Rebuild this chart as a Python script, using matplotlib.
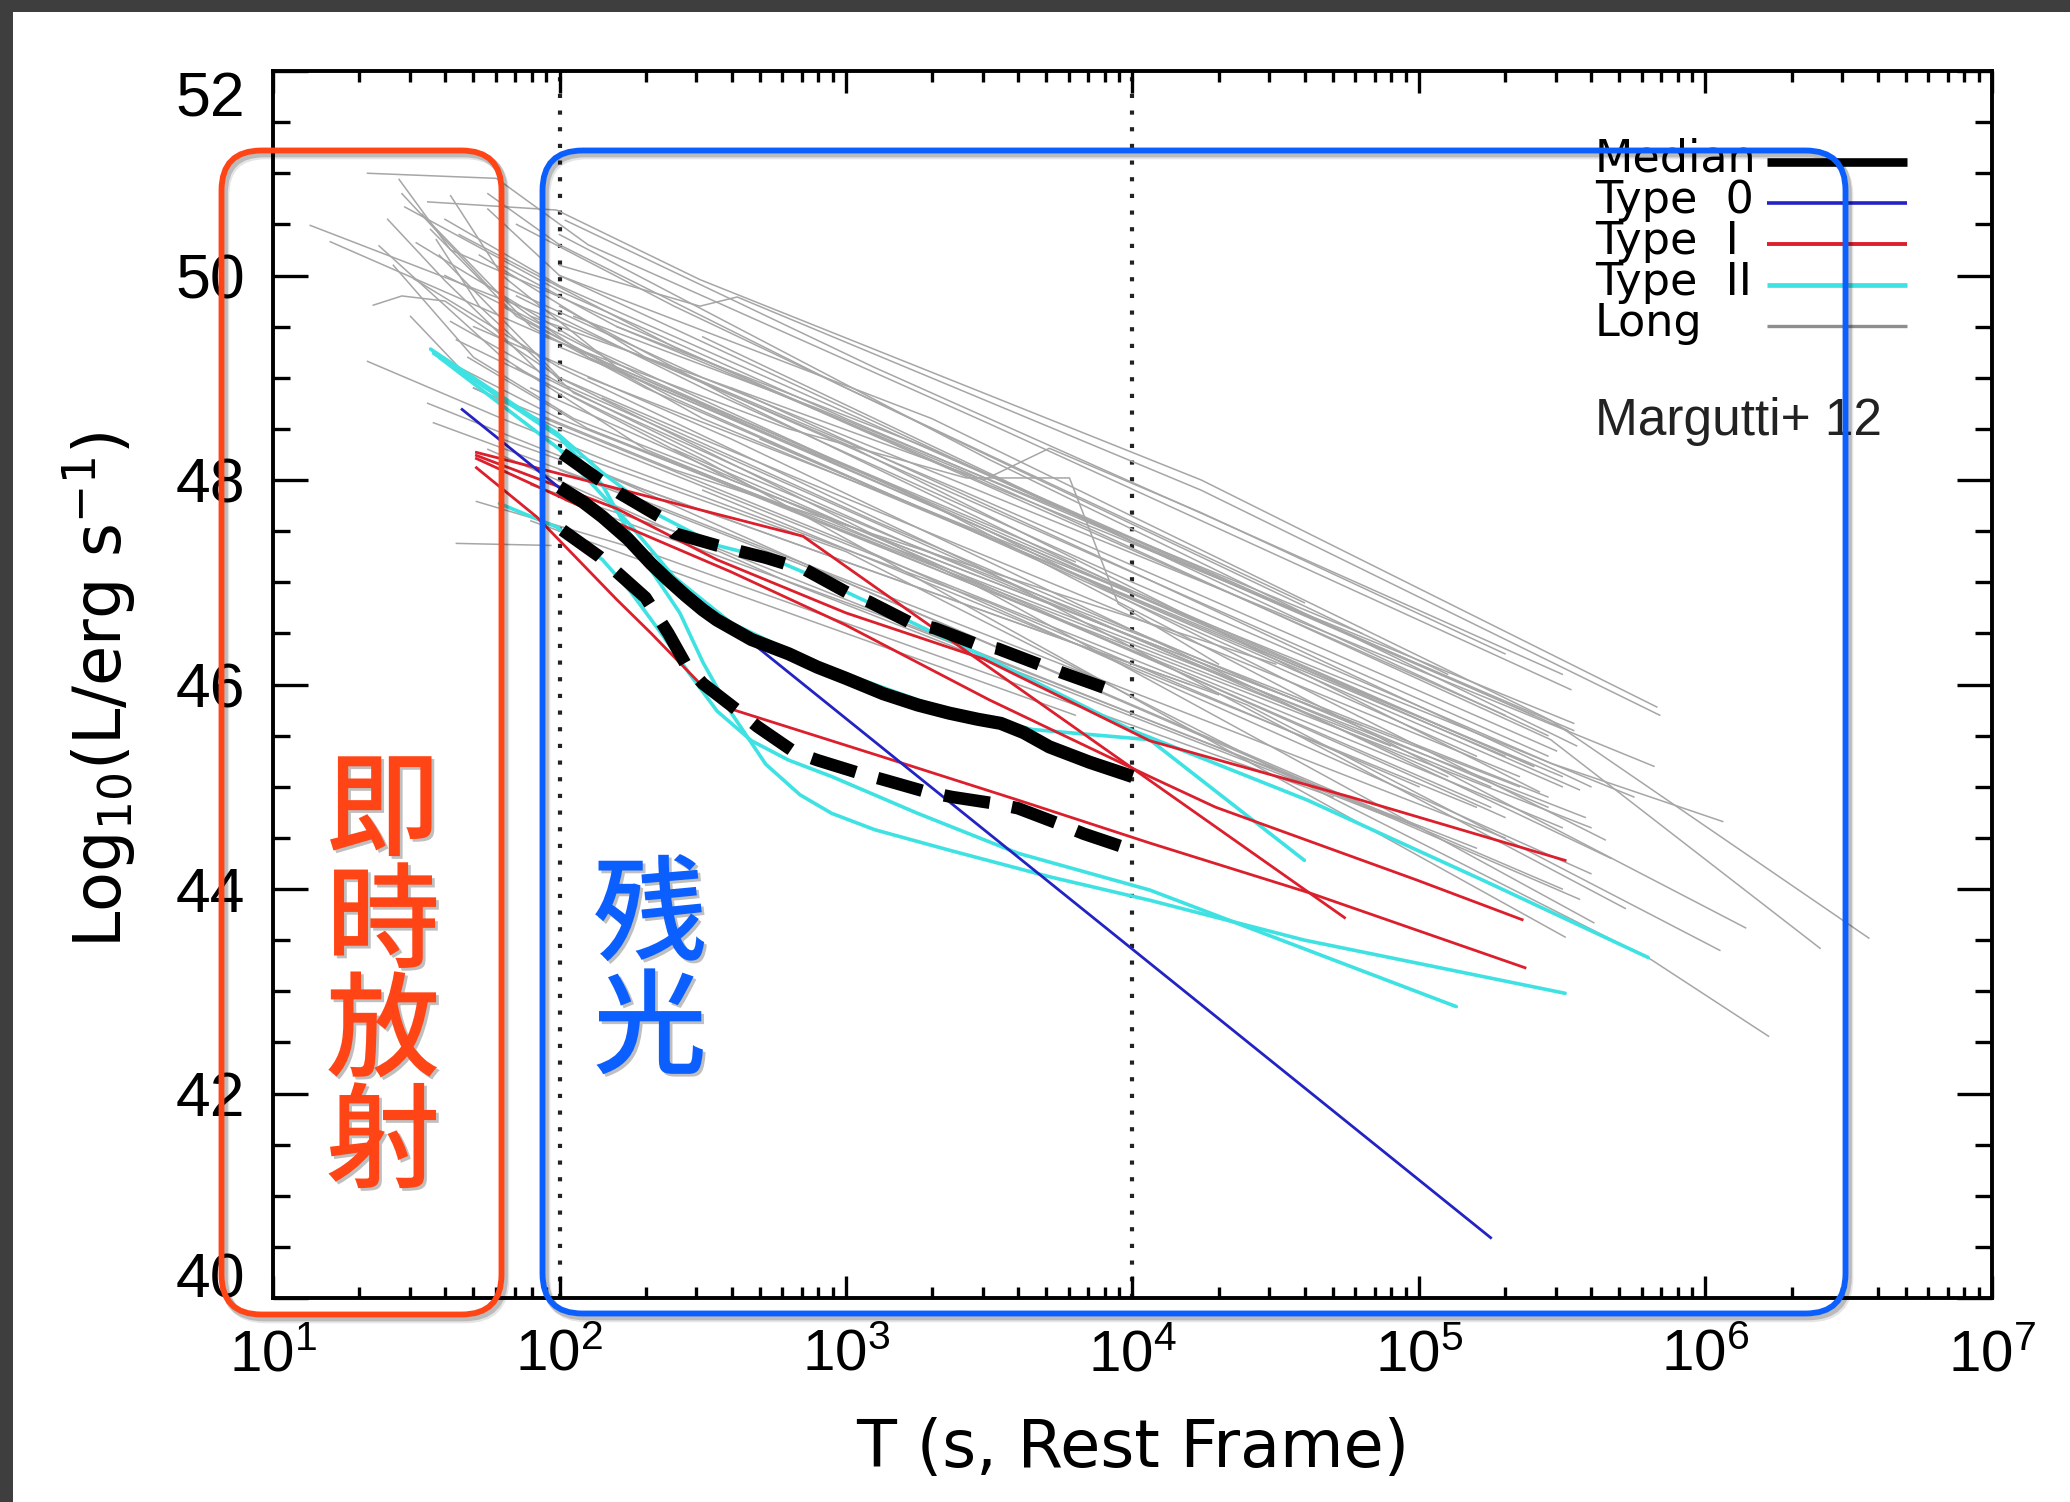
import numpy as np
import matplotlib
matplotlib.use("Agg")
import matplotlib.pyplot as plt
import matplotlib.ticker as mticker
import matplotlib.patheffects as pe
from matplotlib.patches import FancyBboxPatch, Rectangle

plt.rcParams["mathtext.fontset"] = "custom"
plt.rcParams["mathtext.rm"] = "Liberation Sans"
plt.rcParams["mathtext.it"] = "Liberation Sans:italic"
plt.rcParams["mathtext.default"] = "regular"

# ---------------- data: log10(T [s]) and log10(L [erg/s]) ----------------
median_logt = [2.00, 2.08, 2.15, 2.24, 2.32, 2.38, 2.44, 2.50, 2.55, 2.67, 2.80, 2.90, 3.00,
               3.13, 3.25, 3.36, 3.46, 3.54, 3.62, 3.71, 3.85, 4.00]
median_lum = [47.93, 47.79, 47.64, 47.42, 47.18, 47.02, 46.87, 46.73, 46.63, 46.44, 46.30,
              46.17, 46.06, 45.91, 45.80, 45.72, 45.66, 45.62, 45.53, 45.39, 45.24, 45.10]

upper_logt = [2.01, 2.14, 2.21, 2.35, 2.40, 2.55, 2.72, 2.86, 3.01, 3.08, 3.22, 3.31, 3.45,
              3.53, 3.68, 3.76, 3.91]
upper_lum = [48.26, 48.00, 47.87, 47.64, 47.48, 47.36, 47.24, 47.12, 46.89, 46.81, 46.61,
             46.55, 46.40, 46.35, 46.19, 46.11, 45.96]

lower_logt = [2.01, 2.14, 2.22, 2.30, 2.38, 2.44, 2.50, 2.62, 2.69, 2.82, 2.90, 3.05, 3.13,
              3.28, 3.37, 3.51, 3.60, 3.75, 3.83, 4.00]
lower_lum = [47.51, 47.25, 47.05, 46.85, 46.50, 46.20, 46.01, 45.75, 45.59, 45.34, 45.26,
             45.13, 45.07, 44.95, 44.90, 44.84, 44.79, 44.63, 44.54, 44.38]

type0_logt = [1.66, 5.25]
type0_lum = [48.69, 40.59]

type1_logt = [
    [1.71, 2.85, 4.74],
    [1.71, 2.20, 2.55, 3.00, 3.48, 4.06, 4.76, 5.51],
    [1.71, 2.20, 2.60, 3.00, 3.50, 4.06, 4.29, 4.99, 5.36],
    [1.71, 1.92, 2.20, 2.32, 2.49, 2.61, 3.13, 3.60, 4.06, 4.62, 5.37],
]
type1_lum = [
    [48.27, 47.45, 43.72],
    [48.24, 47.72, 47.22, 46.70, 46.25, 45.45, 44.90, 44.28],
    [48.21, 47.58, 47.10, 46.58, 45.85, 45.10, 44.80, 44.09, 43.70],
    [48.12, 47.64, 46.83, 46.50, 46.01, 45.75, 45.29, 44.87, 44.45, 43.96, 43.23],
]

type2_logt = [
    [1.55, 1.99, 2.15, 2.35, 2.55, 2.75, 2.90, 3.05, 3.22, 3.50, 4.00, 4.61, 5.22, 5.80],
    [1.56, 2.00, 2.15, 2.30, 2.42, 2.50, 2.60, 2.72, 2.84, 2.95, 3.10, 3.36, 3.71, 4.06,
     4.60, 5.51],
    [1.79, 1.99, 2.15, 2.25, 2.35, 2.45, 2.55, 2.67, 2.80, 2.95, 3.25, 3.60, 4.06, 5.13],
    [1.58, 2.00, 2.25, 2.40, 2.60, 2.90, 3.30, 3.65, 4.06, 4.60],
]
type2_lum = [
    [49.28, 48.46, 48.07, 47.65, 47.36, 47.22, 47.04, 46.84, 46.62, 46.25, 45.55, 44.87,
     44.09, 43.33],
    [49.24, 48.42, 47.95, 47.20, 46.70, 46.22, 45.72, 45.22, 44.92, 44.74, 44.58, 44.38,
     44.12, 43.89, 43.50, 42.98],
    [47.77, 47.54, 47.22, 46.90, 46.52, 46.12, 45.74, 45.45, 45.26, 45.10, 44.74, 44.35,
     43.99, 42.85],
    [49.20, 48.30, 47.55, 47.05, 46.60, 46.20, 45.80, 45.56, 45.46, 44.28],
]

long_logt = [
    [1.33, 1.78, 2.10, 3.50, 5.53],
    [1.44, 1.62, 2.20, 3.50, 5.54],
    [1.46, 2.00, 3.00, 5.54],
    [1.54, 1.99, 2.49, 4.24, 5.83],
    [1.13, 2.00, 3.00, 5.42],
    [1.20, 2.00, 3.50, 5.56],
    [1.37, 1.80, 2.30, 5.50],
    [1.50, 2.10, 3.50, 5.65],
    [1.49, 2.00, 3.50, 5.72],
    [1.35, 1.45, 1.60, 2.00, 3.50, 5.61],
    [1.64, 2.50, 5.51],
    [1.33, 1.80, 2.20, 3.50, 5.00],
    [1.54, 2.30, 4.30],
    [1.56, 2.20, 5.30],
    [1.71, 2.30, 4.70],
    [1.64, 1.97],
    [2.00, 2.49, 2.62, 4.24, 5.84],
    [1.75, 2.00, 3.30, 5.46, 6.57],
    [1.80, 2.20, 3.40, 5.46, 6.40],
    [1.85, 2.50, 4.00, 5.46, 6.06],
    [2.00, 3.00, 5.81, 6.22],
    [1.90, 2.60, 3.48, 3.71, 4.24, 5.30],
    [1.95, 2.80, 3.42, 3.78, 3.95, 4.30],
    [1.80, 2.50, 5.82],
    [1.70, 2.60, 5.67],
    [2.00, 3.20, 6.14],
    [1.65, 2.40, 5.30],
    [1.72, 2.30, 5.45],
    [1.80, 2.50, 5.50],
    [1.85, 2.60, 5.35],
    [1.90, 2.70, 5.25],
    [1.95, 3.00, 5.60],
    [2.00, 3.00, 5.50],
    [2.02, 3.10, 5.20],
    [1.75, 2.80, 4.90],
    [2.05, 2.90, 4.80],
    [2.10, 3.20, 5.75],
    [2.00, 3.50, 5.55],
    [2.02, 3.10, 5.50],
    [1.60, 2.30, 5.40],
    [1.62, 2.00, 5.10],
    [1.68, 2.10, 5.58],
    [1.70, 2.40, 4.50],
    [1.80, 2.20, 4.20],
    [1.90, 2.40, 5.00],
    [2.10, 3.60, 5.60],
    [2.20, 3.30, 5.52],
    [2.30, 3.40, 5.48],
    [2.15, 3.10, 5.45],
    [2.40, 3.30, 5.30],
    [2.50, 4.00, 5.40],
    [2.50, 3.80, 5.20],
    [2.60, 4.00, 5.60],
    [2.70, 4.20, 5.30],
    [1.75, 2.00, 3.00, 4.60],
    [1.85, 2.40, 5.10],
    [1.60, 2.00, 4.50],
    [2.00, 3.00, 5.45],
    [2.00, 2.60, 4.00],
    [1.90, 2.30, 3.80],
    [1.70, 2.00, 4.40, 6.05],
    [2.20, 3.00, 5.56],
    [1.45, 1.75, 2.10, 3.50, 5.40],
    [1.52, 1.90, 2.30, 5.50],
    [1.55, 1.85, 2.40, 5.20],
    [1.42, 1.70, 2.05, 4.80],
    [1.58, 2.00, 2.50, 5.35],
    [1.62, 1.80, 2.20, 3.80],
    [1.48, 1.65, 2.00, 4.90],
    [1.40, 1.60, 1.95, 2.60, 5.25],
    [1.57, 1.72, 2.05, 3.20, 5.45],
]
long_lum = [
    [51.00, 50.95, 50.30, 48.55, 45.95],
    [50.94, 50.25, 49.55, 47.95, 45.62],
    [50.67, 49.85, 48.60, 45.55],
    [50.72, 50.64, 49.96, 48.00, 45.78],
    [50.49, 49.55, 48.35, 44.95],
    [50.33, 49.35, 47.50, 44.97],
    [50.29, 49.20, 48.30, 44.60],
    [50.32, 49.30, 47.50, 44.48],
    [49.97, 49.10, 47.10, 43.81],
    [49.71, 49.80, 49.75, 49.00, 46.90, 43.67],
    [49.37, 48.20, 43.53],
    [49.16, 48.60, 48.15, 46.80, 45.00],
    [48.75, 47.90, 45.90],
    [48.56, 47.90, 44.50],
    [47.79, 47.30, 44.90],
    [47.38, 47.36],
    [50.10, 49.70, 49.79, 47.90, 45.70],
    [50.65, 50.00, 48.60, 45.65, 43.52],
    [50.10, 49.50, 48.10, 45.46, 43.42],
    [49.80, 48.90, 47.00, 45.23, 44.66],
    [48.30, 47.30, 43.31, 42.56],
    [49.60, 48.90, 48.00, 48.31, 47.68, 46.30],
    [49.40, 48.50, 48.02, 48.02, 46.79, 46.20],
    [49.90, 49.00, 45.20],
    [49.50, 48.40, 44.30],
    [49.30, 47.90, 43.62],
    [50.40, 49.30, 45.70],
    [50.20, 49.20, 45.30],
    [49.70, 48.60, 45.10],
    [49.10, 48.00, 45.00],
    [48.90, 47.90, 44.80],
    [48.60, 47.40, 44.15],
    [48.10, 47.00, 44.00],
    [47.80, 46.70, 44.40],
    [48.30, 47.00, 44.70],
    [49.60, 48.70, 46.50],
    [49.00, 47.80, 44.90],
    [50.40, 48.20, 45.40],
    [50.54, 49.10, 46.10],
    [50.00, 49.00, 45.20],
    [49.55, 48.95, 45.10],
    [49.20, 48.50, 44.70],
    [48.90, 48.10, 46.20],
    [48.40, 48.00, 46.00],
    [47.95, 47.50, 44.60],
    [48.50, 46.80, 44.60],
    [49.50, 48.30, 45.55],
    [49.20, 47.90, 45.35],
    [48.80, 47.60, 44.80],
    [48.30, 47.20, 44.70],
    [49.40, 47.40, 45.70],
    [47.90, 46.40, 44.80],
    [48.90, 47.10, 45.00],
    [48.40, 46.60, 45.30],
    [50.80, 50.30, 48.90, 46.80],
    [50.50, 49.70, 46.10],
    [50.55, 49.90, 46.80],
    [50.00, 48.70, 45.50],
    [49.70, 48.80, 46.90],
    [47.60, 47.20, 45.70],
    [48.90, 48.50, 45.80, 43.40],
    [48.00, 47.00, 43.90],
    [50.80, 49.90, 49.20, 47.50, 45.20],
    [50.60, 49.50, 48.90, 45.00],
    [50.45, 49.60, 48.80, 45.30],
    [50.10, 49.20, 48.60, 45.60],
    [50.20, 49.00, 48.40, 45.10],
    [50.78, 50.00, 49.10, 47.20],
    [49.60, 49.10, 48.60, 45.40],
    [50.55, 49.95, 49.00, 48.10, 45.00],
    [50.35, 49.70, 48.85, 47.40, 44.90],
]

legend_labels = ["Median", "Type  0", "Type  I", "Type  II", "Long"]
legend_colors = ["black", "#2323c3", "#dc1f2c", "#3fe2e2", "#8e8e8e"]
legend_widths = [6.2, 2.6, 2.8, 3.4, 2.4]

x_range = (1e1, 1e7)
y_range = (40, 52)
x_ticks = [1e1, 1e2, 1e3, 1e4, 1e5, 1e6, 1e7]
y_ticks = [40, 42, 44, 46, 48, 50, 52]
phase_lines = [1e2, 1e4]

# ---------------- figure ----------------
W, H = 2070, 1502
fig = plt.figure(figsize=(W / 100, H / 100), dpi=100, facecolor="white")
ax = fig.add_axes([273 / W, 1 - 1298 / H, 1719 / W, 1227 / H])


def T(v):
    return 10 ** np.asarray(v, dtype=float)


for t, l in zip(long_logt, long_lum):
    ax.plot(T(t), l, color="#a6a6a6", lw=1.1, zorder=2)
for t, l in zip(type2_logt, type2_lum):
    ax.plot(T(t), l, color="#3fe2e2", lw=2.6, zorder=3, solid_capstyle="round",
            solid_joinstyle="round")
for t, l in zip(type1_logt, type1_lum):
    ax.plot(T(t), l, color="#dc1f2c", lw=2.0, zorder=4)
ax.plot(T(type0_logt), type0_lum, color="#2323c3", lw=2.0, zorder=5)

ax.plot(T(median_logt), median_lum, color="black", lw=9.5, zorder=6,
        solid_capstyle="butt", solid_joinstyle="round")
for t, l in ((upper_logt, upper_lum), (lower_logt, lower_lum)):
    ax.plot(T(t), l, color="black", lw=9.0, zorder=6, dashes=(3.7, 1.8),
            dash_capstyle="butt", dash_joinstyle="round")

for xv in phase_lines:
    ax.axvline(xv, color="#222222", lw=3.0, dashes=(1, 3), zorder=1.5)

ax.set_xscale("log")
ax.set_xlim(*x_range)
ax.set_ylim(*y_range)
ax.set_xticks(x_ticks)
ax.xaxis.set_major_formatter(mticker.FuncFormatter(
    lambda v, p: r"$10^{%d}$" % int(round(np.log10(v)))))
ax.xaxis.set_minor_locator(mticker.LogLocator(base=10, subs=np.arange(2, 10), numticks=20))
ax.xaxis.set_minor_formatter(mticker.NullFormatter())
ax.set_yticks(y_ticks)
ax.set_yticklabels([str(v) for v in y_ticks])
ax.yaxis.set_minor_locator(mticker.MultipleLocator(0.5))

for s in ax.spines.values():
    s.set_linewidth(2.8)
ax.tick_params(which="both", direction="in", top=True, right=True, width=2.4, color="black")
ax.tick_params(axis="x", which="major", length=16, pad=22, labelsize=42)
ax.tick_params(axis="x", which="minor", length=8)
ax.tick_params(axis="y", which="major", length=25, pad=20, labelsize=45)
ax.tick_params(axis="y", which="minor", length=12.5)
for lab in ax.get_xticklabels() + ax.get_yticklabels():
    lab.set_fontfamily("Liberation Sans")
ylabs = ax.get_yticklabels()
ylabs[0].set_va("baseline")
ylabs[-1].set_va("top")

ax.set_xlabel("T (s, Rest Frame)", fontsize=47, family="DejaVu Sans", va="center")
ax.xaxis.set_label_coords(0.5, (1298 - 1449) / 1227)
ax.set_ylabel(r"Log$_{10}$(L/erg s$^{-1}$)", fontsize=47, family="DejaVu Sans",
              va="center", ha="center")
ax.yaxis.set_label_coords((99 - 273) / 1719, (1298 - 690) / 1227)

# legend drawn as label column + sample lines
row_y = [0.9258, 0.8924, 0.8590, 0.8256, 0.7921]
for lab, col, lw, yy in zip(legend_labels, legend_colors, legend_widths, row_y):
    ax.text(0.769, yy - 0.0081, lab, transform=ax.transAxes, fontsize=32,
            family="DejaVu Sans", va="baseline", ha="left", zorder=8)
    ax.plot([0.869, 0.9506], [yy, yy], transform=ax.transAxes, color=col, lw=lw,
            solid_capstyle="butt", zorder=8)

ax.text(0.769, 0.7033, "Margutti+ 12", transform=ax.transAxes, fontsize=37,
        family="Liberation Sans", color="#222222", va="baseline", ha="left", zorder=8)

# ---------------- slide overlay (pixel coordinates) ----------------
ov = fig.add_axes([0, 0, 1, 1], zorder=10)
ov.set_xlim(0, W)
ov.set_ylim(H, 0)
ov.axis("off")
ov.patch.set_alpha(0)

ov.add_patch(Rectangle((0, 0), W, 12, color="#3e3e3e", lw=0))
ov.add_patch(Rectangle((0, 0), 13, H, color="#3e3e3e", lw=0))

red_c = "#ff4516"
blue_c = "#0b5fff"
boxes = [((221.5, 150.5, 280, 1164), red_c), ((542.5, 150.5, 1303, 1163), blue_c)]
for (x0, y0, w, h), col in boxes:
    for dx, dy, a in ((4, 5, 0.10), (2.5, 3, 0.18)):
        ov.add_patch(FancyBboxPatch((x0 + dx, y0 + dy), w, h,
                                    boxstyle="round,pad=0,rounding_size=40",
                                    fill=False, ec="black", lw=5.5, alpha=a))
    ov.add_patch(FancyBboxPatch((x0, y0), w, h, boxstyle="round,pad=0,rounding_size=40",
                                fill=False, ec=col, lw=4.2))

shadow = [pe.withSimplePatchShadow(offset=(2, -2), shadow_rgbFace="black", alpha=0.25)]
for ch, yc in zip("即時放射", [814, 926, 1035, 1146]):
    ov.text(383, yc, ch, fontsize=82, color=red_c, family="Noto Sans CJK JP",
            weight="medium", ha="center", va="center", path_effects=shadow)
for ch, yc in zip("残光", [919, 1032]):
    ov.text(650, yc, ch, fontsize=82, color=blue_c, family="Noto Sans CJK JP",
            weight="medium", ha="center", va="center", path_effects=shadow)

fig.savefig("out.png", dpi=100, facecolor="white")
